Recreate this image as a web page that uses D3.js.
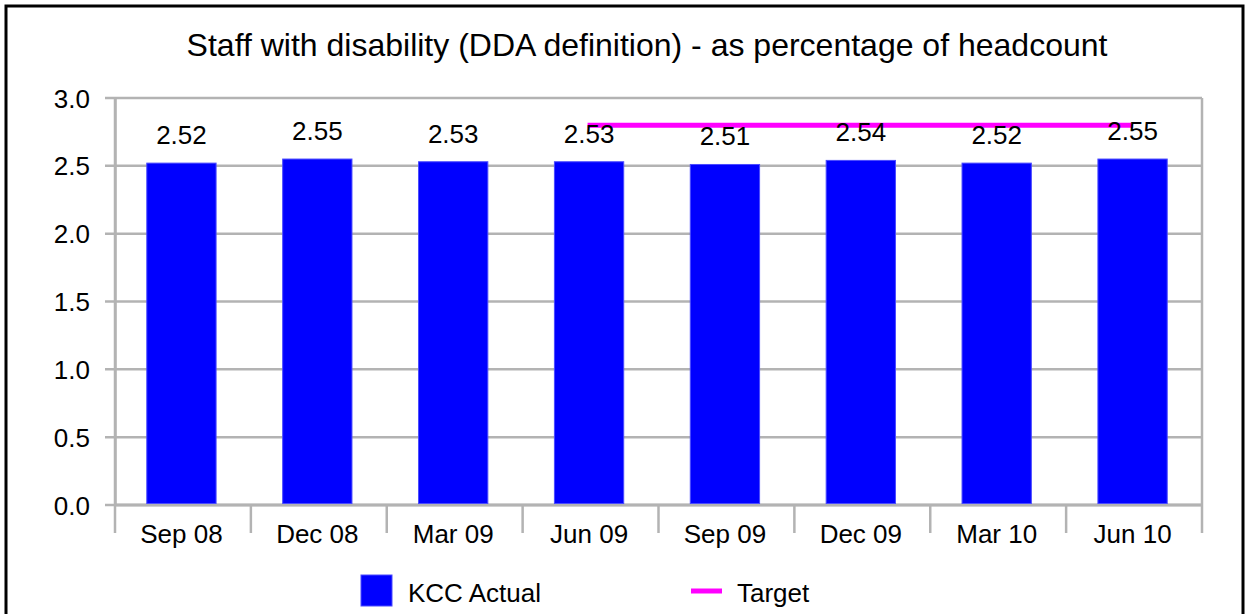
<!DOCTYPE html>
<html><head><meta charset="utf-8">
<script src="https://cdn.jsdelivr.net/npm/d3@7"></script>
<style>body{margin:0;background:#fff}svg{display:block;font-family:"Liberation Sans",Arial,sans-serif}</style>
</head><body><svg id="c" width="1248" height="614"></svg>
<script>
const categories = ["Sep 08","Dec 08","Mar 09","Jun 09","Sep 09","Dec 09","Mar 10","Jun 10"];
const actual = [2.52,2.55,2.53,2.53,2.51,2.54,2.52,2.55];
const target = [null,null,null,2.8,2.8,2.8,2.8,2.8];
const yTicks = [0,0.5,1.0,1.5,2.0,2.5,3.0];
const title = "Staff with disability (DDA definition) - as percentage of headcount";

const svg = d3.select("#c");
const L=115,R=1202,T=98,B=505;
const grey="#b3b3b3";
svg.append("rect").attr("x",6).attr("y",6).attr("width",1237).attr("height",620)
  .attr("fill","#fff").attr("stroke","#000").attr("stroke-width",3);

const x = d3.scaleBand().domain(categories).range([L,R]).paddingInner(0).paddingOuter(0);
const y = d3.scaleLinear().domain([0,3]).range([B,T]);

svg.append("text").attr("x",647).attr("y",56).attr("text-anchor","middle")
  .attr("font-size",32).text(title);

// gridlines
svg.append("g").selectAll("line").data(yTicks).join("line")
  .attr("x1",L-10).attr("x2",R).attr("y1",d=>y(d)).attr("y2",d=>y(d))
  .attr("stroke",grey).attr("stroke-width",2.5);
svg.append("line").attr("x1",R).attr("x2",R).attr("y1",T).attr("y2",B+28).attr("stroke",grey).attr("stroke-width",2.5);
// y axis
const yAxis = d3.axisLeft(y).tickValues(yTicks).tickFormat(d3.format(".1f")).tickSize(0).tickPadding(25);
const gy = svg.append("g").attr("transform",`translate(${L},0)`).call(yAxis);
gy.select(".domain").attr("stroke",grey).attr("stroke-width",2.5);
gy.selectAll("text").attr("font-size",26).attr("fill","#000").attr("font-family","Liberation Sans, Arial, sans-serif").attr("dy","0.35em");
svg.append("line").attr("x1",L).attr("x2",L).attr("y1",T).attr("y2",B+28).attr("stroke",grey).attr("stroke-width",2.5);
// x axis
const xAxis = d3.axisBottom(x).tickSize(0).tickPadding(20);
const gx = svg.append("g").attr("transform",`translate(-1.5,${B})`).call(xAxis);
gx.select(".domain").remove();
gx.selectAll("text").attr("font-size",26).attr("fill","#000").attr("font-family","Liberation Sans, Arial, sans-serif");
svg.append("g").selectAll("line").data(categories.slice(1)).join("line")
  .attr("x1",d=>x(d)).attr("x2",d=>x(d)).attr("y1",B).attr("y2",B+28)
  .attr("stroke",grey).attr("stroke-width",2.5);
svg.append("line").attr("x1",L).attr("x2",R).attr("y1",B).attr("y2",B).attr("stroke",grey).attr("stroke-width",3);

// bars
const bw = x.bandwidth()*0.51;
svg.append("g").selectAll("rect").data(actual).join("rect")
  .attr("x",(d,i)=>x(categories[i])+x.bandwidth()/2-bw/2-1.5)
  .attr("width",bw).attr("y",d=>y(d)).attr("height",d=>B-1.5-y(d))
  .attr("fill","#0000ff").attr("stroke","#4a4aff").attr("stroke-width",1);

// target line
const line = d3.line().defined(d=>d!=null)
  .x((d,i)=>x(categories[i])+x.bandwidth()/2-3).y(d=>y(d));
svg.append("path").datum(target).attr("d",line).attr("fill","none")
  .attr("stroke","#ff00ff").attr("stroke-width",5);

// labels
svg.append("g").selectAll("text").data(actual).join("text")
  .attr("x",(d,i)=>x(categories[i])+x.bandwidth()/2-1.5)
  .attr("y",d=>y(d)-19).attr("text-anchor","middle").attr("font-size",26)
  .text(d=>d.toFixed(2));

// legend
svg.append("rect").attr("x",361).attr("y",575).attr("width",31).attr("height",31)
  .attr("fill","#0000ff").attr("stroke","#4a4aff").attr("stroke-width",1);
svg.append("text").attr("x",408).attr("y",602).attr("font-size",26).text("KCC Actual");
svg.append("line").attr("x1",691).attr("x2",722).attr("y1",591).attr("y2",591)
  .attr("stroke","#ff00ff").attr("stroke-width",5);
svg.append("text").attr("x",737).attr("y",602).attr("font-size",26).text("Target");
</script></body></html>
